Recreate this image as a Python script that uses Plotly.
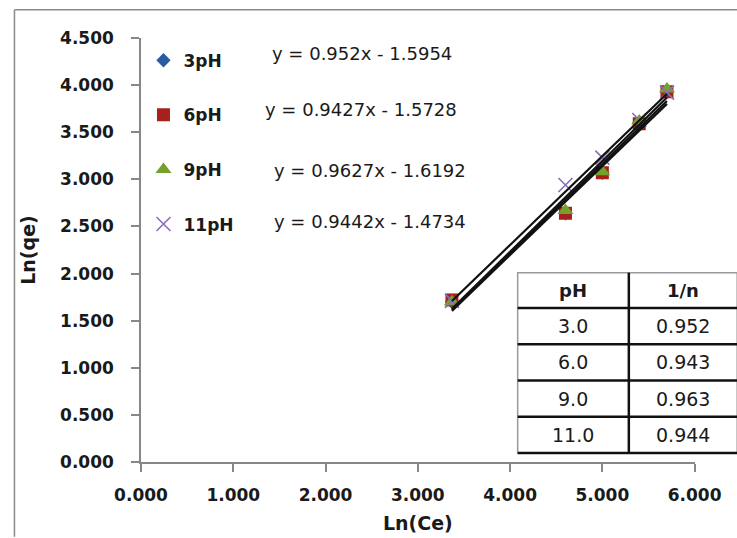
import plotly.graph_objects as go

# ---- data -------------------------------------------------------------
ln_ce = [3.37, 4.60, 5.00, 5.40, 5.70]
series_names = ["3pH", "6pH", "9pH", "11pH"]
ln_qe = {
    "3pH": [1.70, 2.64, 3.07, 3.60, 3.93],
    "6pH": [1.72, 2.64, 3.07, 3.59, 3.93],
    "9pH": [1.70, 2.67, 3.08, 3.62, 3.96],
    "11pH": [1.71, 2.94, 3.23, 3.63, 3.92],
}
slopes = [0.952, 0.9427, 0.9627, 0.9442]
intercepts = [-1.5954, -1.5728, -1.6192, -1.4734]
table_header = ["pH", "1/n"]
table_ph = ["3.0", "6.0", "9.0", "11.0"]
y_ticks = [0, 0.5, 1, 1.5, 2, 2.5, 3, 3.5, 4, 4.5]
x_ticks = [0, 1, 2, 3, 4, 5, 6]

# ---- styling ----------------------------------------------------------
# layout positions below are given on a 737 x 538 grid; the canvas is laid
# out slightly wider and SX maps grid x positions onto it
W, H = 765, 538
SX = W / 737
L, T, B = 135.5 * SX, 38.3, 75.7
PLOT_W = 557.8 * SX
PAPER_W = W - L
PAPER_H = H - T - B
FONT = "DejaVu Sans"
TXT = "#1a1a1a"
AXIS_GREY = "#878787"

styles = {
    "3pH": dict(symbol="diamond", size=11, color="#2A5CA6"),
    "6pH": dict(symbol="square", size=13, color="#A8201E"),
    "9pH": dict(symbol="triangle-up", size=14, color="#74A02C"),
    "11pH": dict(symbol="x-thin", size=14, color="#8A6DBA"),
}


def px_x(x):
    return (x * SX - L) / PAPER_W


def px_y(y):
    return (H - B - y) / PAPER_H


fig = go.Figure()

# scatter points, one legend group per pH so the entries can be spaced out
for name in series_names:
    st = styles[name]
    marker = dict(symbol=st["symbol"], size=st["size"], color=st["color"])
    if st["symbol"] == "x-thin":
        marker["line"] = dict(color=st["color"], width=1.6)
    fig.add_trace(go.Scatter(
        x=ln_ce, y=ln_qe[name], mode="markers", name=name,
        legendgroup=name, marker=marker,
    ))

# linear trendlines from the fitted equations, over the measured range
x_lo, x_hi = min(ln_ce), max(ln_ce)
for name, m, c in zip(series_names, slopes, intercepts):
    fig.add_trace(go.Scatter(
        x=[x_lo, x_hi], y=[m * x_lo + c, m * x_hi + c], mode="lines",
        line=dict(color="#111111", width=2.2), showlegend=False,
        hoverinfo="skip",
    ))

# trendline equations
eq_pos = [(265, 54), (258, 110), (267, 171), (267, 222)]
for (ex, ey), m, c in zip(eq_pos, slopes, intercepts):
    fig.add_annotation(
        x=px_x(ex), y=px_y(ey), xref="paper", yref="paper",
        xanchor="left", yanchor="middle", showarrow=False,
        text=f"y = {m}x - {abs(c)}",
        font=dict(family=FONT, size=18, color=TXT),
    )

# ---- Freundlich 1/n table (grid of rules + centred cell text) ----------
tab_left, tab_mid, tab_right = 515, 627, 736.2
tab_top, head_h, row_h = 273, 35.3, 36.25
rows = [[p, f"{s:.3f}"] for p, s in zip(table_ph, slopes)]
row_edges = [tab_top, tab_top + head_h]
for _ in rows:
    row_edges.append(row_edges[-1] + row_h)
tab_bottom = row_edges[-1]

fig.add_shape(type="rect", xref="paper", yref="paper",
              x0=px_x(tab_left), x1=px_x(tab_right),
              y0=px_y(tab_bottom), y1=px_y(tab_top),
              fillcolor="white", line=dict(color="#9a9a9a", width=1.5))
for yy in row_edges[1:]:
    fig.add_shape(type="line", xref="paper", yref="paper",
                  x0=px_x(tab_left), x1=px_x(tab_right),
                  y0=px_y(yy), y1=px_y(yy),
                  line=dict(color="#111111", width=2.5))
fig.add_shape(type="line", xref="paper", yref="paper",
              x0=px_x(tab_mid), x1=px_x(tab_mid),
              y0=px_y(tab_bottom), y1=px_y(tab_top),
              line=dict(color="#111111", width=2.5))

col_centres = [(tab_left + tab_mid) / 2, (tab_mid + tab_right) / 2]
for cx, label in zip(col_centres, table_header):
    fig.add_annotation(
        x=px_x(cx), y=px_y((row_edges[0] + row_edges[1]) / 2),
        xref="paper", yref="paper", showarrow=False,
        xanchor="center", yanchor="middle",
        text=f"<b>{label}</b>", font=dict(family=FONT, size=18, color=TXT),
    )
for i, row in enumerate(rows):
    cy = (row_edges[i + 1] + row_edges[i + 2]) / 2
    for cx, val in zip(col_centres, row):
        fig.add_annotation(
            x=px_x(cx), y=px_y(cy), xref="paper", yref="paper",
            showarrow=False, xanchor="center", yanchor="middle", text=val,
            font=dict(family=FONT, size=19, color=TXT),
        )

# outer chart frame (left and top edges lie inside the canvas)
frame = dict(color="#8a8a8a", width=1.5)
fig.add_shape(type="line", xref="paper", yref="paper",
              x0=px_x(8), x1=px_x(8), y0=px_y(H - 1), y1=px_y(10),
              line=frame)
fig.add_shape(type="line", xref="paper", yref="paper",
              x0=px_x(8), x1=px_x(736), y0=px_y(10), y1=px_y(10),
              line=frame)

axis_common = dict(
    showgrid=False, zeroline=False, showline=True,
    linecolor=AXIS_GREY, linewidth=1.5,
    ticks="outside", tickcolor=AXIS_GREY, tickwidth=1.5, ticklen=8,
    tickformat=".3f",
    tickfont=dict(family=FONT, size=17, color=TXT, weight="bold"),
)

fig.update_layout(
    width=W, height=H, autosize=False,
    margin=dict(l=L, r=0, t=T, b=B, pad=0),
    paper_bgcolor="white", plot_bgcolor="white",
    xaxis=dict(
        axis_common, range=[0, 6], tickvals=x_ticks,
        domain=[0, PLOT_W / PAPER_W], ticklabelstandoff=9,
        title=dict(text="Ln(Ce)", standoff=13,
                   font=dict(family=FONT, size=19, color=TXT,
                             weight="bold")),
    ),
    yaxis=dict(
        axis_common, range=[0, 4.5], tickvals=y_ticks,
        ticklabelstandoff=14,
        title=dict(text="Ln(qe)", standoff=19,
                   font=dict(family=FONT, size=19, color=TXT,
                             weight="bold")),
    ),
    showlegend=True,
    legend=dict(
        x=px_x(138), y=px_y(43), xanchor="left", yanchor="top",
        bgcolor="rgba(0,0,0,0)", borderwidth=0,
        tracegroupgap=29.5, itemclick=False,
        font=dict(family=FONT, size=17, color=TXT, weight="bold"),
    ),
)

fig.write_html("out.html")
